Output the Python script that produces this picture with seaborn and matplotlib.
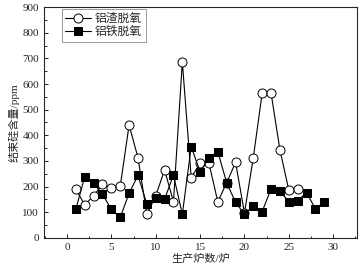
import matplotlib
matplotlib.use("Agg")
import matplotlib.pyplot as plt
import numpy as np
import pandas as pd
import seaborn as sns
from matplotlib.ticker import MultipleLocator

furnace_slag = list(range(1, 27))
si_slag = [190, 129, 164, 210, 193, 201, 440, 313, 92, 164, 265, 141, 686,
           235, 291, 291, 141, 215, 295, 97, 313, 565, 565, 343, 187, 190]
furnace_fe = list(range(1, 30))
si_fe = [112, 239, 213, 170, 112, 80, 174, 244, 132, 157, 151, 245, 92,
         356, 258, 313, 336, 215, 139, 92, 126, 103, 191, 183, 141, 145,
         177, 113, 141]

label_slag = "铝渣脱氧"
label_fe = "铝铁脱氧"

sns.set_theme(style="ticks")
plt.rcParams['font.family'] = ['Liberation Serif', 'Noto Sans CJK SC']
plt.rcParams['axes.unicode_minus'] = False

df_slag = pd.DataFrame({'x': furnace_slag, 'y': si_slag})
df_fe = pd.DataFrame({'x': furnace_fe, 'y': si_fe})

fig = plt.figure(figsize=(3.6, 2.71), dpi=100)
ax = fig.add_axes([0.122, 0.122, 0.870, 0.852])

sns.lineplot(data=df_slag, x='x', y='y', ax=ax, color='black', lw=0.8,
             marker='o', markersize=6.5, markerfacecolor='white',
             markeredgecolor='black', markeredgewidth=0.7, label=label_slag)
sns.lineplot(data=df_fe, x='x', y='y', ax=ax, color='black', lw=0.8,
             marker='s', markersize=5.5, markerfacecolor='black',
             markeredgecolor='black', label=label_fe)

ax.set_xlim(-2.6, 32.7)
ax.set_ylim(0, 900)
ax.xaxis.set_major_locator(MultipleLocator(5))
ax.xaxis.set_minor_locator(MultipleLocator(2.5))
ax.yaxis.set_major_locator(MultipleLocator(100))
ax.yaxis.set_minor_locator(MultipleLocator(50))
ax.tick_params(which='both', direction='in', labelsize=8, width=0.7)
ax.tick_params(which='major', length=3)
ax.tick_params(which='minor', length=1.8)
for s in ax.spines.values():
    s.set_linewidth(0.8)

ax.set_xlabel("生产炉数/炉", fontsize=8, labelpad=1)
ax.set_ylabel("结束硅含量/ppm", fontsize=8, labelpad=2)

leg = ax.legend(loc='upper left', fontsize=8.5, frameon=True, fancybox=False,
                edgecolor='gray', borderpad=0.3, labelspacing=0.1,
                handlelength=2.2, handletextpad=0.3, borderaxespad=0.2,
                bbox_to_anchor=(0.05, 1.0))
leg.get_frame().set_linewidth(0.7)

fig.savefig("out.png", dpi=100)
